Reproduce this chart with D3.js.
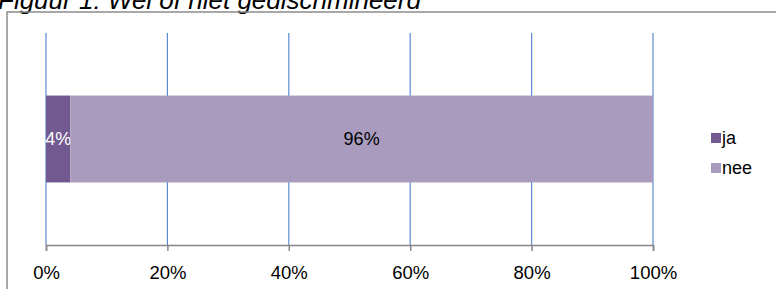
<!DOCTYPE html>
<html>
<head>
<meta charset="utf-8">
<script src="https://cdn.jsdelivr.net/npm/d3@7"></script>
<style>
    body { margin: 0; background: #fff; }
    svg { display: block; font-family: Arial, "Liberation Sans", sans-serif; }
</style>
</head>
<body>
<div id="chart"></div>
<script>
// chart data
var categories = ["Figuur 1"];
var seriesNames = ["ja", "nee"];
var seriesValues = [[0.04], [0.96]];
var tickValues = [0, 0.2, 0.4, 0.6, 0.8, 1];
var colors = ["#725990", "#a99bbd"];
var title = "Figuur 1: Wel of niet gediscrimineerd";

var outerWidth = 776,
    outerHeight = 289,
    margin = {top: 33, left: 46, right: 123, bottom: 44},
    width = outerWidth - margin.left - margin.right,
    height = outerHeight - margin.top - margin.bottom;

var svg = d3.select("#chart")
    .append("svg")
    .attr("width", outerWidth)
    .attr("height", outerHeight);

// title, cut off by the top edge like in the original
svg.append("text")
    .attr("x", -2)
    .attr("y", 8.5)
    .style("font-size", "26px")
    .style("font-style", "italic")
    .text(title);

// chart frame (runs past the right and bottom edge)
svg.append("rect")
    .attr("x", 7)
    .attr("y", 12)
    .attr("width", 800)
    .attr("height", 300)
    .attr("fill", "none")
    .attr("stroke", "#8c8c8c")
    .attr("stroke-width", 1.5);

var g = svg.append("g")
    .attr("transform", "translate(" + margin.left + "," + margin.top + ")");

var x = d3.scaleLinear().domain([0, 1]).range([0, width]);
var y = d3.scaleBand().domain(categories).range([0, height]).paddingInner(0.59).paddingOuter(0.295);

// gridlines
g.selectAll(".grid")
    .data(tickValues)
    .enter().append("line")
    .attr("x1", function(d) { return x(d); })
    .attr("x2", function(d) { return x(d); })
    .attr("y1", 0)
    .attr("y2", height)
    .attr("stroke", "#5b8bd0")
    .attr("stroke-width", 1.2);

// stacked bars
var stackData = categories.map(function(c, i) {
    var row = {cat: c};
    seriesNames.forEach(function(s, j) { row[s] = seriesValues[j][i]; });
    return row;
});
var stack = d3.stack().keys(seriesNames)(stackData);

var layers = g.selectAll(".layer")
    .data(stack)
    .enter().append("g")
    .attr("fill", function(d, i) { return colors[i]; });

layers.selectAll("rect")
    .data(function(d) { return d; })
    .enter().append("rect")
    .attr("x", function(d) { return x(d[0]); })
    .attr("width", function(d) { return x(d[1]) - x(d[0]); })
    .attr("y", function(d) { return y(d.data.cat); })
    .attr("height", y.bandwidth());

// value labels
layers.each(function(layer, i) {
    d3.select(this).selectAll("text")
        .data(layer)
        .enter().append("text")
        .attr("x", function(d) { return (x(d[0]) + x(d[1])) / 2; })
        .attr("y", function(d) { return y(d.data.cat) + y.bandwidth() / 2; })
        .attr("dy", "0.35em")
        .attr("text-anchor", "middle")
        .attr("fill", i == 0 ? "#ffffff" : "#000000")
        .style("font-size", "18px")
        .text(function(d) { return Math.round((d[1] - d[0]) * 100) + "%"; });
});

// x axis
var xAxis = d3.axisBottom(x)
    .tickValues(tickValues)
    .tickFormat(d3.format(".0%"))
    .tickSize(6)
    .tickPadding(15);

var axis = g.append("g")
    .attr("transform", "translate(0," + height + ")")
    .call(xAxis);
axis.select(".domain").attr("stroke", "#868686").attr("stroke-width", 1.5);
axis.selectAll(".tick line").attr("stroke", "#868686").attr("stroke-width", 1.5);
axis.selectAll(".tick text")
    .attr("fill", "#000")
    .style("font-size", "18.5px")
    .style("font-family", "Arial, 'Liberation Sans', sans-serif");

// legend
var legend = svg.selectAll(".legend")
    .data(seriesNames)
    .enter().append("g")
    .attr("transform", function(d, i) { return "translate(711," + (133 + i * 30) + ")"; });

legend.append("rect")
    .attr("width", 10)
    .attr("height", 10)
    .attr("fill", function(d, i) { return colors[i]; });

legend.append("text")
    .attr("x", 11)
    .attr("y", 5)
    .attr("dy", "0.35em")
    .style("font-size", "18px")
    .text(function(d) { return d; });
</script>
</body>
</html>
